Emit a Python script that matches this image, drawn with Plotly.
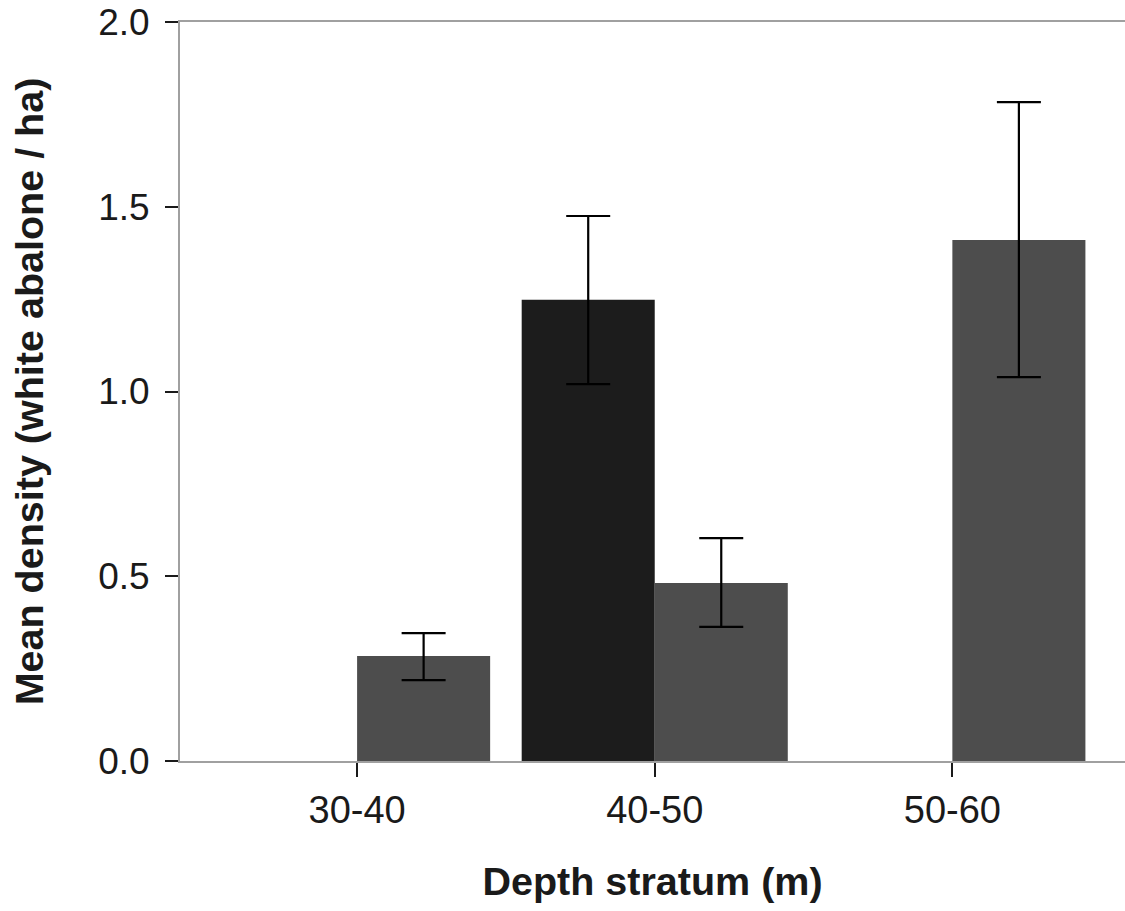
import plotly.graph_objects as go

categories = ["30-40", "40-50", "50-60"]
series_a = [None, 1.248, None]
series_a_hi = [None, 1.475, None]
series_a_lo = [None, 1.020, None]
series_b = [0.284, 0.482, 1.410]
series_b_hi = [0.346, 0.603, 1.783]
series_b_lo = [0.219, 0.363, 1.039]
y_ticks = [0, 0.5, 1.0, 1.5, 2.0]
y_tick_labels = ["0.0", "0.5", "1.0", "1.5", "2.0"]


def plus(v, hi):
    return [None if a is None else h - a for a, h in zip(v, hi)]


def minus(v, lo):
    return [None if a is None else a - l for a, l in zip(v, lo)]


fig = go.Figure()
fig.add_trace(go.Bar(
    x=categories, y=series_a, marker=dict(color="#1c1c1c", line=dict(width=0)),
    error_y=dict(type="data", symmetric=False, array=plus(series_a, series_a_hi),
                 arrayminus=minus(series_a, series_a_lo), color="black",
                 thickness=2.2, width=22),
    showlegend=False,
))
fig.add_trace(go.Bar(
    x=categories, y=series_b, marker=dict(color="#4d4d4d", line=dict(width=0)),
    error_y=dict(type="data", symmetric=False, array=plus(series_b, series_b_hi),
                 arrayminus=minus(series_b, series_b_lo), color="black",
                 thickness=2.2, width=22),
    showlegend=False,
))

font_family = "Liberation Sans, Arial, sans-serif"
fig.update_layout(
    width=1125, height=911,
    margin=dict(l=180, r=0, t=22, b=150, pad=0),
    paper_bgcolor="white", plot_bgcolor="white",
    barmode="group", bargap=0.106, bargroupgap=0,
    font=dict(family=font_family, color="#1a1a1a"),
    xaxis=dict(
        range=[-0.595, 2.58], showgrid=False, zeroline=False,
        showline=True, linecolor="#a0a0a0", linewidth=2, mirror=True,
        ticks="outside", ticklen=14, tickwidth=2, tickcolor="#1a1a1a",
        tickfont=dict(size=38, family=font_family),
        title=dict(text="<b>Depth stratum (m)</b>", font=dict(size=39.5, family=font_family), standoff=38),
    ),
    yaxis=dict(
        range=[0, 2.0], showgrid=False, zeroline=False,
        showline=True, linecolor="#a0a0a0", linewidth=2,
        tickmode="array", tickvals=y_ticks, ticktext=y_tick_labels,
        ticks="outside", ticklen=13, tickwidth=2, tickcolor="#1a1a1a",
        ticklabelstandoff=8,
        tickfont=dict(size=37, family=font_family),
        title=dict(text="<b>Mean density (white abalone / ha)</b>", font=dict(size=39.5, family=font_family), standoff=42),
    ),
)

fig.write_html("out.html", config={"displayModeBar": False},
               post_script="document.body.style.margin='0';")
